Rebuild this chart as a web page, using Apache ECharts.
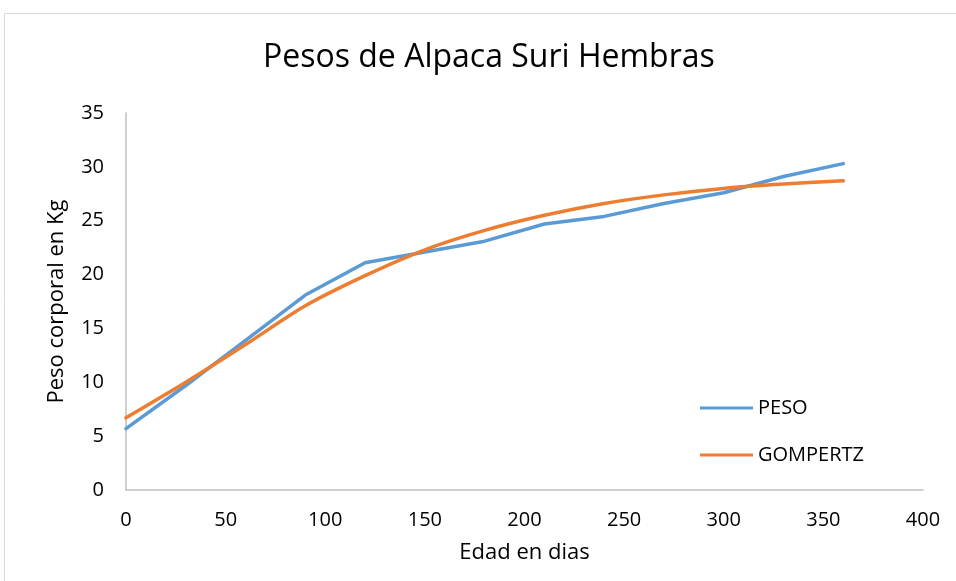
<!DOCTYPE html>
<html>
<head>
<meta charset="utf-8">
<script src="https://cdn.jsdelivr.net/npm/echarts@6/dist/echarts.min.js"></script>
<style>html,body{margin:0;padding:0;background:#fff}#c{width:956px;height:581px}</style>
</head>
<body>
<div id="c"></div>
<script>
var days = [0, 30, 60, 90, 120, 150, 180, 210, 240, 270, 300, 330, 360];
var peso = [5.7, 9.7, 13.9, 18.1, 21.1, 22.1, 23.1, 24.7, 25.4, 26.6, 27.6, 29.1, 30.3];
var gompertz = [6.7, 10.0, 13.5, 17.1, 19.9, 22.3, 24.1, 25.5, 26.6, 27.4, 28.0, 28.4, 28.7];
var titleText = 'Pesos de Alpaca Suri Hembras';
var xName = 'Edad en dias';
var yName = 'Peso corporal en Kg';

function pairs(xs, ys){ return xs.map(function(x,i){ return [x, ys[i]]; }); }

var font = '"Open Sans", "Noto Sans", sans-serif';
var chart = echarts.init(document.getElementById('c'), null, {renderer:'canvas'});
chart.setOption({
  animation: false,
  backgroundColor: '#fff',
  textStyle: {fontFamily: font},
  graphic: [{
    type: 'rect', shape: {x: 4.5, y: 13.5, width: 1000, height: 700},
    style: {fill: 'none', stroke: '#d9d9d9', lineWidth: 1}, silent: true, z: -10
  }],
  title: {
    text: titleText, left: 258, top: 37,
    textStyle: {fontFamily: font, fontSize: 32, fontWeight: 'normal', color: '#000'}
  },
  grid: {left: 126, right: 33, top: 113, bottom: 91, containLabel: false},
  legend: {
    orient: 'vertical', left: 695, top: 393, itemGap: 27,
    itemWidth: 53, itemHeight: 3, icon: 'rect',
    textStyle: {fontFamily: font, fontSize: 20, color: '#000', padding: [0,0,0,0]},
    data: ['PESO', 'GOMPERTZ']
  },
  xAxis: {
    type: 'value', min: 0, max: 400, interval: 50,
    name: xName, nameLocation: 'middle', nameGap: 52,
    nameTextStyle: {fontFamily: font, fontSize: 22, color: '#000'},
    axisLine: {show: true, lineStyle: {color: '#bfbfbf', width: 1.5}},
    axisTick: {show: false},
    splitLine: {show: false},
    axisLabel: {fontFamily: font, fontSize: 20, color: '#000', margin: 20}
  },
  yAxis: {
    type: 'value', min: 0, max: 35, interval: 5,
    name: yName, nameLocation: 'middle', nameGap: 58, nameRotate: 90,
    nameTextStyle: {fontFamily: font, fontSize: 22, color: '#000'},
    axisLine: {show: true, lineStyle: {color: '#bfbfbf', width: 1.5}},
    axisTick: {show: false},
    splitLine: {show: false},
    axisLabel: {fontFamily: font, fontSize: 20, color: '#000', margin: 22}
  },
  series: [
    {name: 'PESO', type: 'line', data: pairs(days, peso), showSymbol: false,
     lineStyle: {color: '#5b9bd5', width: 3.5, cap: 'round'}, itemStyle: {color: '#5b9bd5'}},
    {name: 'GOMPERTZ', type: 'line', data: pairs(days, gompertz), showSymbol: false, smooth: 0.3,
     lineStyle: {color: '#ed7d31', width: 3.5, cap: 'round'}, itemStyle: {color: '#ed7d31'}}
  ]
});
</script>
</body>
</html>
